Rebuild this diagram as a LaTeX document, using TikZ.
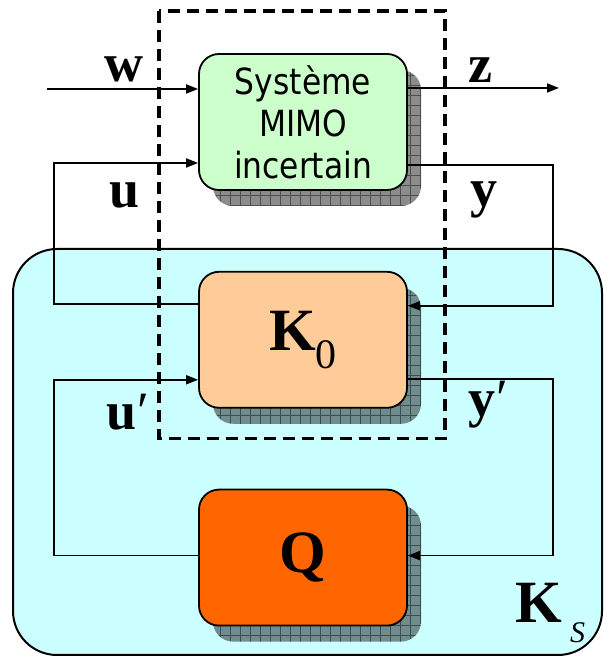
\documentclass[tikz,border=0pt]{standalone}
\usepackage{fontspec}
\newfontfamily\sysfont[FakeStretch=0.87]{DejaVu Sans}
\newfontfamily\labfont{Liberation Serif}
\usetikzlibrary{arrows.meta, positioning, shadows, patterns.meta}

\definecolor{sysgreen}{HTML}{CCFFCC}
\definecolor{kpeach}{HTML}{FFCC99}
\definecolor{qorange}{HTML}{FF6600}
\definecolor{kcyan}{HTML}{CCFFFF}

\begin{document}
\begin{tikzpicture}[>={Triangle[length=6pt, width=4.5pt]}, node distance=40pt,
  block/.style={draw, line width=0.9pt, rounded corners=10pt, minimum width=104pt, minimum height=68pt, align=center,
    drop shadow={shadow xshift=7pt, shadow yshift=-8pt, fill=black, opacity=.45,
      postaction={pattern={Hatch[angle=0, distance=5pt, line width=0.5pt]}, pattern color=black}}},
  sig/.style={font=\labfont\bfseries\fontsize{27}{27}\selectfont, anchor=base, inner sep=0pt},
  wire/.style={line width=0.9pt}]
\useasboundingbox (0,0) rectangle (301.5pt,328pt);
% regulateur K_S
\draw[line width=1pt, fill=kcyan, rounded corners=22pt] (6.5pt,0.5pt) rectangle (301pt,203.5pt);

\node[block, fill=sysgreen, font=\sysfont\fontsize{18}{21}\selectfont] (sys) at (151.5pt,267pt) {Système\\MIMO\\incertain};
\node[block, fill=kpeach, below=of sys] (K0) {\labfont\fontsize{30}{30}\selectfont\textbf{K}\raisebox{-0.3em}{\fontsize{21}{21}\selectfont 0}};
\node[block, fill=qorange, below=of K0] (Q) {\labfont\bfseries\fontsize{30}{30}\selectfont Q};

\coordinate (win) at (23.5pt,283.5pt);
\coordinate (zout) at (279.5pt,284pt);
\draw[wire, ->] (win) -- ([yshift=16.5pt]sys.west);
\draw[wire, ->] ([yshift=17pt]sys.east) -- (zout);
\draw[wire, ->] ([yshift=18pt]K0.west) -- ++(-72pt,0) |- ([yshift=-20.5pt]sys.west);
\draw[wire, ->] ([yshift=-21.5pt]sys.east) -- ++(72.5pt,0) |- ([yshift=17pt]K0.east);
\draw[wire, ->] ([yshift=1pt]Q.west) -- ++(-72pt,0) |- ([yshift=-20pt]K0.west);
\draw[wire, ->] ([yshift=-19.5pt]K0.east) -- ++(72.5pt,0) |- ([yshift=1pt]Q.east);

% partie nominale
\draw[line width=1.8pt, dash pattern=on 6pt off 3.5pt] ([shift={(-19.5pt,21pt)}]sys.north west) rectangle ([shift={(18.5pt,-15pt)}]K0.south east);

\node[sig] (wlab) at (62pt,287pt) {w};
\node[sig] (zlab) at (240pt,286.5pt) {z};
\node[sig] (ulab) at (62.5pt,224pt) {u};
\node[sig] (ylab) at (242pt,224.5pt) {y};
\node[sig] (uplab) at (64pt,113pt) {u\hspace{0.5pt}{\mdseries ′}};
\node[sig] (yplab) at (244pt,119.5pt) {y\hspace{0.5pt}{\mdseries ′}};
\node[sig, anchor=base west, font=\labfont\fontsize{30}{30}\selectfont] (kslab) at (257.5pt,16.5pt) {\textbf{K}\hspace{4pt}\raisebox{-0.32em}{\fontsize{15}{15}\selectfont\itshape S}};
\end{tikzpicture}
\end{document}
